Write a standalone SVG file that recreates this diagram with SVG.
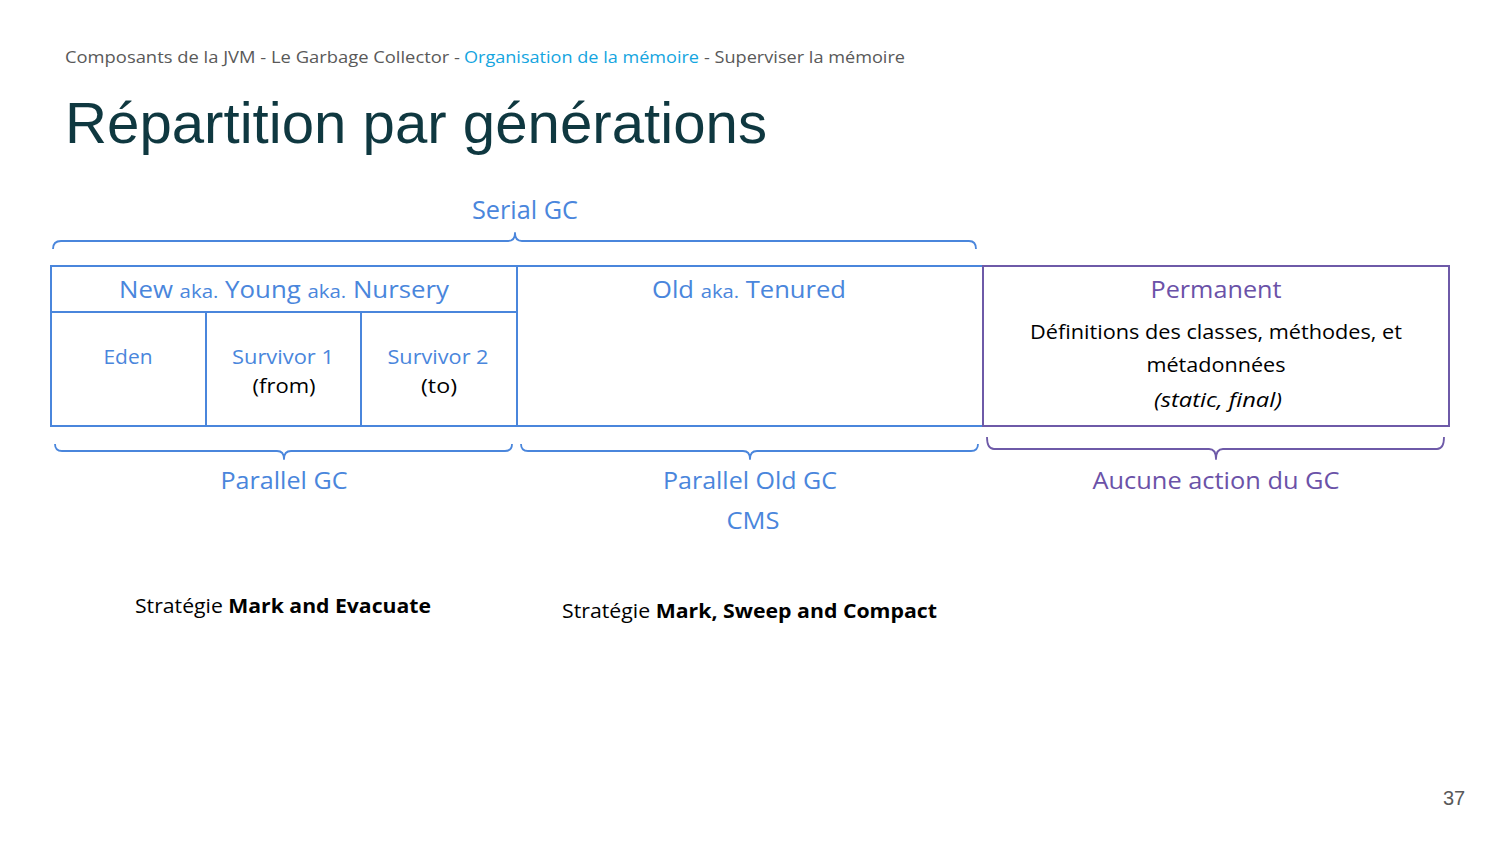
<svg xmlns="http://www.w3.org/2000/svg" width="1500" height="844" viewBox="0 0 1500 844">
<style>
text{font-family:"Open Sans","Noto Sans","Liberation Sans",sans-serif}
.b{fill:#4a86dc}
.p{fill:#6b52a8}
.k{fill:#000}
.c{text-anchor:middle}
.lb{fill:none;stroke:#4a86dc;stroke-width:2}
.lp{fill:none;stroke:#6e5aa8;stroke-width:2}
.br{fill:none;stroke-width:1.8;stroke-linejoin:round}
</style>
<rect width="1500" height="844" fill="#fff"/>
<g id="header">
<text x="65" y="63" font-size="17" fill="#595959" textLength="395" lengthAdjust="spacingAndGlyphs">Composants de la JVM - Le Garbage Collector -</text>
<text x="464" y="63" font-size="17" fill="#14a5e0" textLength="235" lengthAdjust="spacingAndGlyphs">Organisation de la mémoire</text>
<text x="704" y="63" font-size="17" fill="#595959" textLength="201" lengthAdjust="spacingAndGlyphs">- Superviser la mémoire</text>
<text x="65" y="143" font-size="58" fill="#0f3840" style="font-family:'Liberation Sans',Arial,sans-serif" textLength="702" lengthAdjust="spacingAndGlyphs">Répartition par générations</text>
</g>
<g id="young">
<rect x="51" y="266" width="466" height="160" class="lb"/>
<line x1="51" y1="312" x2="517" y2="312" class="lb"/>
<text x="284" y="298" class="b c" font-size="24" textLength="330" lengthAdjust="spacingAndGlyphs">New <tspan font-size="19">aka.</tspan> Young <tspan font-size="19">aka.</tspan> Nursery</text>
</g>
<g id="eden">
<rect x="51" y="312" width="155" height="114" class="lb"/>
<text x="128" y="364" class="b c" font-size="20" textLength="49" lengthAdjust="spacingAndGlyphs">Eden</text>
</g>
<g id="survivor1">
<rect x="206" y="312" width="155" height="114" class="lb"/>
<text x="283" y="364" class="b c" font-size="20" textLength="102" lengthAdjust="spacingAndGlyphs">Survivor 1</text>
<text x="284" y="393" class="k c" font-size="20" textLength="63" lengthAdjust="spacingAndGlyphs">(from)</text>
</g>
<g id="survivor2">
<rect x="361" y="312" width="156" height="114" class="lb"/>
<text x="438" y="364" class="b c" font-size="20" textLength="101" lengthAdjust="spacingAndGlyphs">Survivor 2</text>
<text x="439" y="393" class="k c" font-size="20" textLength="36" lengthAdjust="spacingAndGlyphs">(to)</text>
</g>
<g id="old">
<rect x="517" y="266" width="466" height="160" class="lb"/>
<text x="749" y="298" class="b c" font-size="24" textLength="194" lengthAdjust="spacingAndGlyphs">Old <tspan font-size="19">aka.</tspan> Tenured</text>
</g>
<g id="permanent">
<rect x="983" y="266" width="466" height="160" class="lp"/>
<text x="1216" y="298" class="p c" font-size="24" textLength="131" lengthAdjust="spacingAndGlyphs">Permanent</text>
<text x="1216" y="339" class="k c" font-size="20" textLength="372" lengthAdjust="spacingAndGlyphs">Définitions des classes, méthodes, et</text>
<text x="1216" y="372" class="k c" font-size="20" textLength="139" lengthAdjust="spacingAndGlyphs">métadonnées</text>
<text x="1218" y="407" class="k c" font-size="20" font-style="italic" textLength="128" lengthAdjust="spacingAndGlyphs">(static, final)</text>
</g>
<g id="connectors">
<path class="br" stroke="#4a86dc" d="M53,249 Q53,241 61,241 L508,241 Q515,241 515,233 Q515,241 522,241 L969,241 Q976,241 976,249"/>
<path class="br" stroke="#4a86dc" d="M55,444 Q55,451 62,451 L277,451 Q284,451 284,459 Q284,451 291,451 L505,451 Q512,451 512,444"/>
<path class="br" stroke="#4a86dc" d="M521,444 Q521,451 528,451 L743,451 Q750,451 750,459 Q750,451 757,451 L971,451 Q978,451 978,444"/>
<path class="br" stroke="#6e5aa8" d="M987,437 Q987,449 994,449 L1209,449 Q1216,449 1216,459 Q1216,449 1223,449 L1437,449 Q1444,449 1444,437"/>
</g>
<g id="labels">
<text x="525" y="219" class="b c" font-size="25" textLength="106" lengthAdjust="spacingAndGlyphs">Serial GC</text>
<text x="284" y="489" class="b c" font-size="24" textLength="127" lengthAdjust="spacingAndGlyphs">Parallel GC</text>
<text x="750" y="489" class="b c" font-size="24" textLength="174" lengthAdjust="spacingAndGlyphs">Parallel Old GC</text>
<text x="753" y="529" class="b c" font-size="24" textLength="53" lengthAdjust="spacingAndGlyphs">CMS</text>
<text x="1216" y="489" class="p c" font-size="24" textLength="247" lengthAdjust="spacingAndGlyphs">Aucune action du GC</text>
<text x="135" y="613" class="k" font-size="20" textLength="296" lengthAdjust="spacingAndGlyphs">Stratégie <tspan font-weight="bold">Mark and Evacuate</tspan></text>
<text x="562" y="618" class="k" font-size="20" textLength="375" lengthAdjust="spacingAndGlyphs">Stratégie <tspan font-weight="bold">Mark, Sweep and Compact</tspan></text>
</g>
<text x="1454" y="805" font-size="20" fill="#595959" text-anchor="middle" style="font-family:'Liberation Sans',Arial,sans-serif">37</text>
</svg>
